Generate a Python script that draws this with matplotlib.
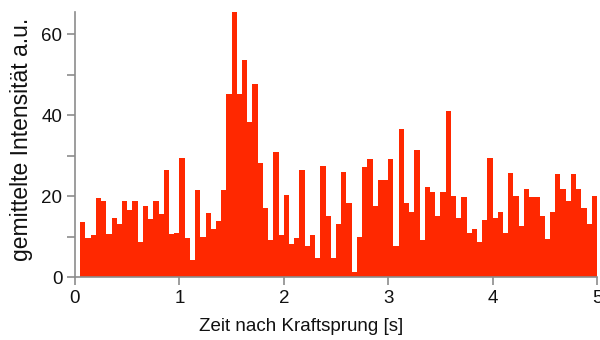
import numpy as np
import matplotlib
matplotlib.use("Agg")
import matplotlib.pyplot as plt
from matplotlib.ticker import MultipleLocator

plt.rcParams['font.family'] = ['Liberation Sans', 'DejaVu Sans']

# Averaged intensity per 50 ms bin after the force step (bins start at 0.05 s)
bin_width = 0.05
first_bin = 0.05
intensity = [
    13.7, 9.7, 10.5, 19.6, 18.9, 10.7, 14.6, 13.2, 18.9, 16.5,
    18.9, 8.6, 17.6, 14.3, 18.9, 15.6, 26.5, 10.7, 11.0, 29.5,
    9.7, 4.3, 21.4, 10.0, 15.8, 11.9, 13.8, 21.4, 45.3, 65.4,
    45.3, 53.5, 38.3, 47.7, 28.3, 17.0, 9.2, 30.9, 10.4, 20.4,
    8.2, 9.7, 26.5, 7.6, 10.5, 4.6, 27.5, 15.1, 4.8, 13.0,
    26.0, 18.4, 1.2, 10.0, 27.3, 29.1, 17.5, 24.0, 24.0, 29.1,
    7.6, 36.5, 18.4, 16.0, 31.3, 9.1, 22.2, 20.9, 15.0, 20.9,
    41.0, 20.1, 14.6, 19.8, 11.0, 12.0, 8.6, 14.0, 29.5, 14.6,
    16.1, 11.0, 25.7, 20.1, 12.7, 21.7, 19.8, 19.8, 15.1, 9.4,
    16.1, 25.4, 21.7, 18.9, 25.4, 21.7, 17.1, 13.0, 20.1,
]
bin_starts = first_bin + bin_width * np.arange(len(intensity))

x_ticks = [0, 1, 2, 3, 4, 5]
y_ticks = [0, 20, 40, 60]

fig = plt.figure(figsize=(6.0, 3.4), dpi=100)
ax = fig.add_axes([0.125, 0.185, 0.87, 0.78])

ax.bar(bin_starts, intensity, width=bin_width, align='edge',
       color='#ff2800', linewidth=0)

ax.set_xlim(0, 5)
ax.set_ylim(0, 65.5)
ax.set_xticks(x_ticks)
ax.set_yticks(y_ticks)
ax.yaxis.set_minor_locator(MultipleLocator(10))

axis_grey = '#8c8c8c'
for side in ('top', 'right'):
    ax.spines[side].set_visible(False)
for side in ('left', 'bottom'):
    ax.spines[side].set_color(axis_grey)
    ax.spines[side].set_linewidth(1.2)

ax.tick_params(axis='both', which='both', direction='out', color=axis_grey,
               width=1.2, labelsize=13.5, labelcolor='#111111')
ax.tick_params(axis='both', which='major', length=6, pad=3)
ax.tick_params(axis='y', which='minor', length=6)

ax.set_xlabel('Zeit nach Kraftsprung [s]', fontsize=13.5, color='#111111')
ax.set_ylabel('gemittelte Intensität a.u.', fontsize=16.5, color='#111111')
ax.xaxis.set_label_coords(0.433, -0.188)
ax.xaxis.label.set_verticalalignment('center')
ax.yaxis.set_label_coords(-0.103, 0.52)
ax.yaxis.label.set_verticalalignment('center')

fig.savefig('out.png', dpi=100)
